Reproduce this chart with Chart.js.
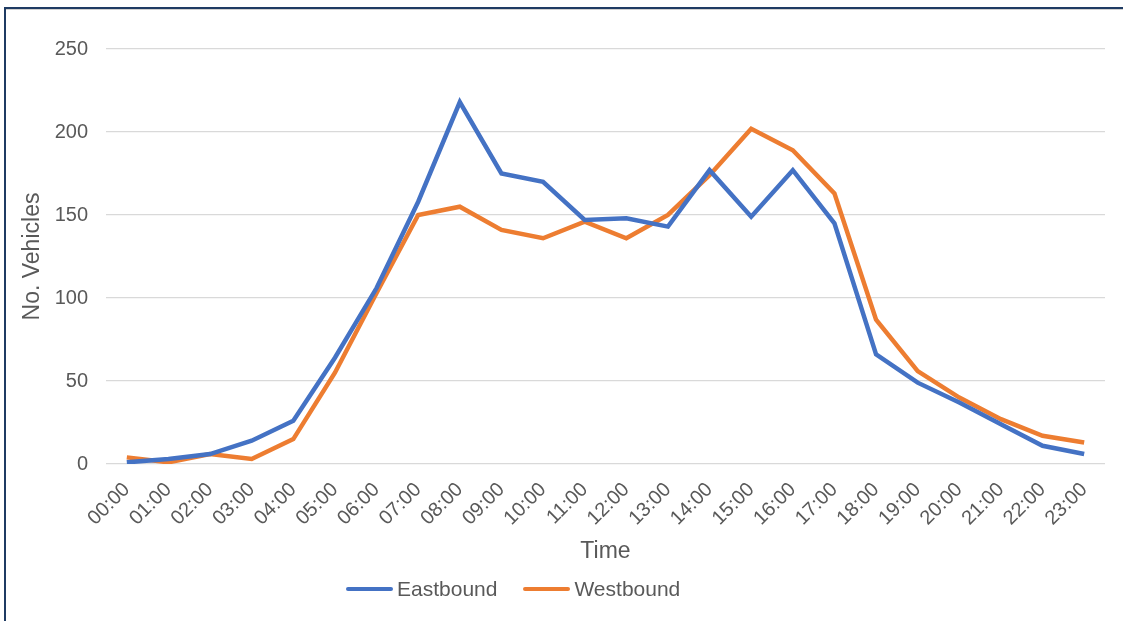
<!DOCTYPE html>
<html>
<head>
    <title>Traffic Count</title>
    <script src="https://cdn.jsdelivr.net/npm/chart.js"></script>
    <style>
        body { margin: 0; background: #fff; font-family: "Liberation Sans", Arial, sans-serif; }
        #wrap { position: relative; width: 1123px; height: 621px; overflow: hidden; }
        #frame {
            position: absolute; left: 4px; top: 7px; width: 1200px; height: 700px;
            border-left: 2px solid #1f3b63; border-top: 2px solid #1f3b63;
            box-shadow: inset 0 1px 0 #d0d0d0;
        }
        #legend { position: absolute; left: 346px; top: 577px; display: flex; color: #595959; font-size: 21px; }
        .item { display: flex; align-items: center; margin-right: 26px; }
        .swatch { width: 47px; height: 4.5px; border-radius: 3px; margin-right: 4px; }
    </style>
</head>
<body>
    <div id="wrap">
        <div id="frame"></div>
        <canvas id="lineChart" width="1123" height="621"></canvas>
        <div id="legend"></div>
    </div>

    <script>
        var hours = ["00:00", "01:00", "02:00", "03:00", "04:00", "05:00", "06:00", "07:00",
            "08:00", "09:00", "10:00", "11:00", "12:00", "13:00", "14:00", "15:00",
            "16:00", "17:00", "18:00", "19:00", "20:00", "21:00", "22:00", "23:00"];
        var eastbound = [1, 3, 6, 14, 26, 64, 106, 158, 218, 175, 170, 147, 148, 143, 177, 149, 177, 145, 66, 49, 37, 24, 11, 6];
        var westbound = [4, 1, 6, 3, 15, 55, 103, 150, 155, 141, 136, 146, 136, 150, 174, 202, 189, 163, 87, 56, 40, 27, 17, 13];
        var seriesNames = ["Eastbound", "Westbound"];
        var seriesColors = ["#4472C4", "#ED7D31"];

        var textColor = "#595959";
        var fontName = "'Liberation Sans', Arial, sans-serif";

        var chart = new Chart("lineChart", {
            type: "line",
            data: {
                labels: hours,
                datasets: [{
                    label: seriesNames[0],
                    data: eastbound,
                    borderColor: seriesColors[0],
                    backgroundColor: seriesColors[0],
                    borderWidth: 4.5,
                    pointRadius: 0,
                    tension: 0
                }, {
                    label: seriesNames[1],
                    data: westbound,
                    borderColor: seriesColors[1],
                    backgroundColor: seriesColors[1],
                    borderWidth: 4.5,
                    pointRadius: 0,
                    tension: 0
                }]
            },
            options: {
                responsive: false,
                animation: false,
                layout: { padding: { left: 15, top: 49, right: 18, bottom: 52 } },
                plugins: {
                    legend: { display: false },
                    tooltip: { enabled: false }
                },
                scales: {
                    x: {
                        offset: true,
                        grid: { display: false, drawTicks: false },
                        border: { display: false },
                        ticks: {
                            autoSkip: false, maxRotation: 45, minRotation: 45,
                            color: textColor, padding: 14,
                            font: { family: fontName, size: 20 }
                        },
                        title: {
                            display: true, text: "Time", color: textColor,
                            font: { family: fontName, size: 23 }
                        },
                        afterFit: function (scale) { scale.height = 105; }
                    },
                    y: {
                        min: 0, max: 250,
                        ticks: {
                            stepSize: 50, color: textColor, padding: 18,
                            font: { family: fontName, size: 20 }
                        },
                        grid: { color: "#D9D9D9", lineWidth: 1.3, drawTicks: false },
                        border: { display: false },
                        title: {
                            display: true, text: "No. Vehicles", color: textColor,
                            font: { family: fontName, size: 23 }
                        },
                        afterFit: function (scale) { scale.width = 91; }
                    }
                }
            }
        });

        // legend built from the datasets
        var legendBox = document.getElementById("legend");
        chart.data.datasets.forEach(function (ds) {
            var item = document.createElement("div");
            item.className = "item";
            var sw = document.createElement("span");
            sw.className = "swatch";
            sw.style.background = ds.borderColor;
            var txt = document.createElement("span");
            txt.textContent = ds.label;
            item.appendChild(sw);
            item.appendChild(txt);
            legendBox.appendChild(item);
        });
    </script>
</body>
</html>
